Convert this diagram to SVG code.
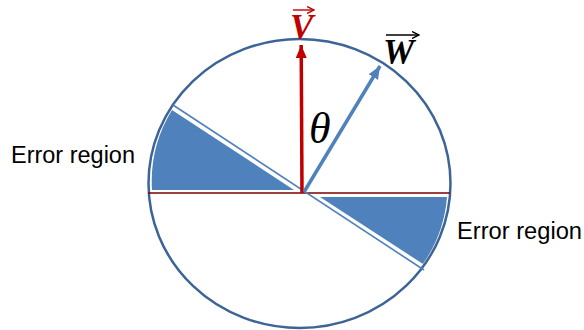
<svg xmlns="http://www.w3.org/2000/svg" width="584" height="330" viewBox="0 0 584 330">
<defs>
<style>
.lbl{font-family:"Liberation Sans","Open Sans",sans-serif;font-size:23px;fill:#000}
.wedge{fill:#4f81bd;stroke:none}
.vec{font-family:"Liberation Serif",serif;font-weight:bold;font-style:italic;font-size:35px}
</style>
<marker id="headRed" markerUnits="userSpaceOnUse" markerWidth="14" markerHeight="14" viewBox="0 0 14 14" refX="13" refY="7" orient="auto">
<path d="M0,1.5 L13,7 L0,12.5 Z" fill="#c00000"/>
</marker>
<marker id="headBlue" markerUnits="userSpaceOnUse" markerWidth="14" markerHeight="14" viewBox="0 0 14 14" refX="13" refY="7" orient="auto">
<path d="M0,1.5 L13,7 L0,12.5 Z" fill="#4f81bd"/>
</marker>
<marker id="smallRed" markerUnits="userSpaceOnUse" markerWidth="8" markerHeight="8" viewBox="0 0 8 8" refX="7" refY="4" orient="auto">
<path d="M0,0.5 L7,4 L0,7.5" fill="none" stroke="#c00000" stroke-width="1.4"/>
</marker>
<marker id="smallBlack" markerUnits="userSpaceOnUse" markerWidth="8" markerHeight="8" viewBox="0 0 8 8" refX="7" refY="4" orient="auto">
<path d="M0,0.5 L7,4 L0,7.5" fill="none" stroke="#000" stroke-width="1.4"/>
</marker>
</defs>
<rect width="584" height="330" fill="#fff"/>
<g id="circle">
<ellipse cx="299.5" cy="183.5" rx="151" ry="144.5" fill="none" stroke="#3c6496" stroke-width="2.5"/>
</g>
<g id="axis">
<line x1="148" y1="193" x2="450" y2="193" stroke="#7a0000" stroke-width="1.6"/>
</g>
<g id="error-left">
<path class="wedge" d="M172,110 A148,141.5 0 0 0 152,190 L294,190 Z"/>
</g>
<g id="error-right">
<path class="wedge" d="M320,197 L447,197 A148,141.5 0 0 1 423,264 Z"/>
</g>
<g id="boundary">
<line x1="173" y1="105" x2="424" y2="270" stroke="#4f81bd" stroke-width="1.6"/>
</g>
<g id="connectors">
<line x1="302" y1="193" x2="301.2" y2="45" stroke="#c00000" stroke-width="3.5" marker-end="url(#headRed)"/>
<line x1="304" y1="192" x2="380" y2="66" stroke="#4f81bd" stroke-width="3.5" marker-end="url(#headBlue)"/>
</g>
<g id="label-v">
<text class="vec" x="290" y="39" fill="#c00000">V</text>
<line x1="293" y1="10" x2="314" y2="10" stroke="#c00000" stroke-width="1.4" marker-end="url(#smallRed)"/>
</g>
<g id="label-w">
<text class="vec" x="383" y="64" fill="#000">W</text>
<line x1="386" y1="35" x2="419" y2="35" stroke="#000" stroke-width="1.4" marker-end="url(#smallBlack)"/>
</g>
<g id="label-theta">
<text x="309" y="143" font-family="Liberation Serif,serif" font-style="italic" font-size="44" fill="#000">θ</text>
</g>
<g id="label-error-left">
<text class="lbl" x="11" y="163" textLength="124" lengthAdjust="spacingAndGlyphs">Error region</text>
</g>
<g id="label-error-right">
<text class="lbl" x="457" y="239" textLength="125" lengthAdjust="spacingAndGlyphs">Error region</text>
</g>
</svg>
